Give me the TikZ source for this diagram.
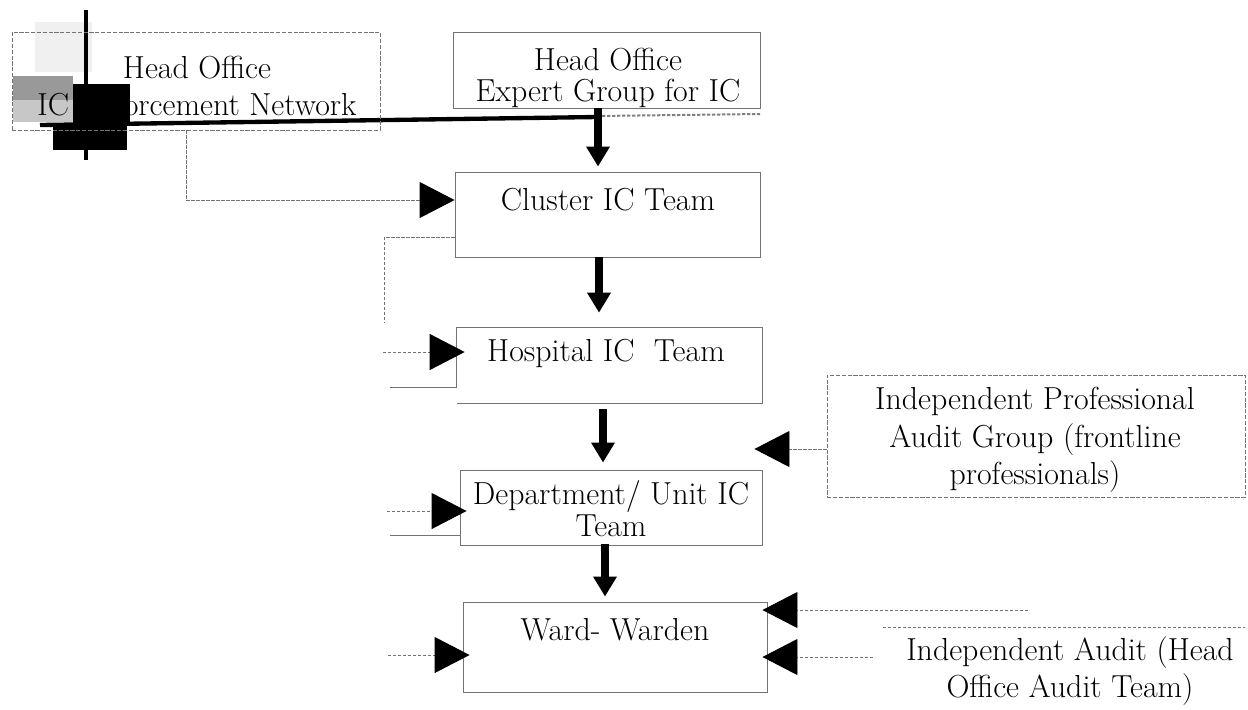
\documentclass[tikz,border=0pt]{standalone}
\usetikzlibrary{arrows.meta,calc}
\begin{document}
\begin{tikzpicture}[x=0.6pt,y=-0.6pt,
  font=\fontsize{19.1}{21}\selectfont,
  boxline/.style={draw=black!55, line width=0.55pt},
  frame/.style={boxline, inner sep=0pt, minimum width=#1},
  dframe/.style={frame=#1, dash pattern=on 2.5pt off 1pt},
  txt/.style={align=center, inner sep=0pt},
  sp/.style={font=\fontsize{19.1}{#1}\selectfont},
  mainarrow/.style={line width=4.8pt, -{Triangle[length=12pt,width=13.5pt]}},
  feed/.style={draw=black!55, line width=0.55pt, dash pattern=on 2pt off 1pt,
    -{Triangle[length=21pt,width=21.6pt,color=black]}},
  stub/.style={draw=black!55, line width=0.55pt, dash pattern=on 2pt off 1pt},
]
\useasboundingbox (0,0) rectangle (1248,709);

% ink blots and rules over the top-left box
\fill[black!6] (35,22) rectangle (92,72);
\fill[black!40] (13,76) rectangle (73,100);
\fill[black!22] (13,100) rectangle (73,122);
\fill[black] (73,84) rectangle (130,123);
\fill[black] (53,126) rectangle (127,150);
\draw[line width=2.4pt] (86,10) -- (86,160);
\draw[line width=2.6pt] (40,125) -- (597,117);
\draw[black!50, line width=1.2pt, dash pattern=on 2pt off 1pt] (597,116) -- (760,114);

% boxes
\node[dframe=220.8pt, minimum height=58.8pt] (net) at (196,81) {};
\node[frame=184.2pt, draw, minimum height=45.6pt] (expert) at (606.5,70) {};
\node[frame=183pt, draw, minimum height=51pt] (cluster) at (607.5,214.5) {};
\node[inner sep=0pt, minimum width=183pt, minimum height=45pt] (hospital) at (609.5,365.5) {};
\node[frame=181.2pt, draw, minimum height=45pt] (dept) at (611,507.5) {};
\node[frame=182.4pt, draw, minimum height=54pt] (ward) at (615,647) {};
\node[dframe=250.8pt, minimum height=73.2pt] (ipag) at (1036,436) {};

% hospital box outline, its left edge turning away to the left
\draw[boxline] (hospital.south west) -- (hospital.south east) -- (hospital.north east)
  -- (hospital.north west) -- ++(0,60) -- ++(-67,0);

% texts
\node[txt, sp=22.2pt] (netT) at (197,86.5) {Head Office\\IC Enforcement Network};
\node[txt, sp=18.6pt] (expertT) at (608,77.5) {Head Office\\Expert Group for IC};
\node[txt] (clusterT) at (608,200) {Cluster IC Team};
\node[txt] (hospitalT) at (606,353) {Hospital IC\ \ Team};
\node[txt, sp=19.2pt] (deptT) at (611,509) {Department/ Unit IC\\Team};
\node[txt] (wardT) at (615,630) {Ward- Warden};
\node[txt, sp=22.5pt] (ipagT) at (1035,440) {Independent Professional\\Audit Group (frontline\\professionals)};
\node[txt, sp=22.2pt] (hoaT) at (1070,671) {Independent Audit (Head\\Office Audit Team)};

% main chain
\draw[mainarrow, shorten >=3pt] (expert.south -| 598,0) -- (cluster.north -| 598,0);
\draw[mainarrow, shorten >=9pt] (cluster.south -| 599,0) -- (hospital.north -| 599,0);
\draw[mainarrow, shorten <=3.6pt, shorten >=4.2pt] (hospital.south -| 603,0) -- (dept.north -| 603,0);
\draw[mainarrow, shorten <=-1pt, shorten >=3pt] (dept.south -| 605,0) -- (ward.north -| 605,0);

% left-hand feeds
\draw[feed] (net.south -| 186,0) |- (cluster.west |- 0,200);
\draw[stub] (cluster.west |- 0,237) -- ++(-70,0) -- ++(0,86);
\coordinate (inH) at (383,352);
\draw[feed, shorten >=-4.8pt] (inH) -- (hospital.west |- inH);
\coordinate (inD) at (387,511);
\draw[feed, shorten >=-4.2pt] (inD) -- (dept.west |- inD);
\draw[boxline] (dept.west |- 0,535) -- ++(-70,0);
\coordinate (inW) at (388,655);
\draw[feed, shorten >=-4.2pt] (inW) -- (ward.west |- inW);

% right-hand feeds
\draw[feed, shorten >=-4.8pt] (ipag.west |- 0,449) -- (dept.east |- 0,449);
\coordinate (rA) at (1028,610);
\draw[feed, shorten >=-3pt] (rA) -- (ward.east |- rA);
\coordinate (rB) at (873,657);
\draw[feed, shorten >=-3pt] (rB) -- (ward.east |- rB);
\coordinate (rL) at (883,627);
\draw[stub] (rL) -- ++(362,0);
\end{tikzpicture}
\end{document}
